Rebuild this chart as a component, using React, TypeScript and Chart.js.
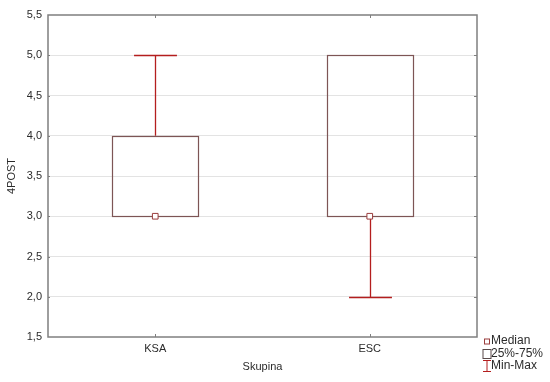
import React, { useEffect, useRef } from "react";
import { Chart, registerables } from "chart.js";

Chart.register(...registerables);

const categories = ["KSA", "ESC"];
const minValues = [3.0, 2.0];
const q1Values = [3.0, 3.0];
const medianValues = [3.0, 3.0];
const q3Values = [4.0, 5.0];
const maxValues = [5.0, 5.0];
const legendLabels = ["Median", "25%-75%", "Min-Max"];
const xTitle = "Skupina";
const yTitle = "4POST";
const yMin = 1.5;
const yMax = 5.5;
const yStep = 0.5;

const FONT = "'Liberation Sans', Arial, sans-serif";
const BOX_COLOR = "#7d5555";
const MEDIAN_COLOR = "#9a3c3c";
const WHISKER_COLOR = "#b41e1e";
const FRAME_COLOR = "#7f7f7f";
const TEXT_COLOR = "#2b2b2b";

const boxPlotPlugin = {
  id: "boxplot",
  beforeDatasetsDraw(chart: any) {
    const { ctx, scales } = chart;
    const xs = scales.x;
    const ys = scales.y;
    const catW = (xs.right - xs.left) / categories.length;
    const capHalf = catW * 0.1;
    const boxHalf = catW * 0.2;
    ctx.save();
    ctx.strokeStyle = WHISKER_COLOR;
    ctx.lineWidth = 1.3;
    categories.forEach((_, i) => {
      const x = Math.round(xs.getPixelForValue(i)) + 0.5;
      const yMaxP = Math.round(ys.getPixelForValue(maxValues[i])) + 0.5;
      const yQ3 = ys.getPixelForValue(q3Values[i]);
      const yQ1 = ys.getPixelForValue(q1Values[i]);
      const yMinP = Math.round(ys.getPixelForValue(minValues[i])) + 0.5;
      ctx.beginPath();
      if (maxValues[i] > q3Values[i]) {
        ctx.moveTo(x, yMaxP);
        ctx.lineTo(x, yQ3);
        ctx.moveTo(x - capHalf, yMaxP);
        ctx.lineTo(x + capHalf, yMaxP);
      }
      if (minValues[i] < q1Values[i]) {
        ctx.moveTo(x, yQ1);
        ctx.lineTo(x, yMinP);
        ctx.moveTo(x - capHalf, yMinP);
        ctx.lineTo(x + capHalf, yMinP);
      }
      ctx.stroke();
    });
    ctx.strokeStyle = BOX_COLOR;
    ctx.lineWidth = 1.2;
    categories.forEach((_, i) => {
      const xc = xs.getPixelForValue(i);
      const l = Math.round(xc - boxHalf) + 0.5;
      const r = Math.round(xc + boxHalf) + 0.5;
      const t = Math.round(ys.getPixelForValue(q3Values[i])) + 0.5;
      const b = Math.round(ys.getPixelForValue(q1Values[i])) + 0.5;
      ctx.strokeRect(l, t, r - l, b - t);
    });
    ctx.restore();
  },
  afterDatasetsDraw(chart: any) {
    const { ctx, chartArea, scales } = chart;
    const { left, right, top, bottom } = chartArea;
    ctx.save();
    ctx.strokeStyle = FRAME_COLOR;
    ctx.lineWidth = 1.5;
    ctx.strokeRect(left, top, right - left, bottom - top);
    ctx.lineWidth = 1;
    ctx.beginPath();
    const ys = scales.y;
    for (let v = yMin + yStep; v < yMax - 1e-9; v += yStep) {
      const y = Math.round(ys.getPixelForValue(v)) + 0.5;
      ctx.moveTo(right, y);
      ctx.lineTo(right - 3, y);
      ctx.moveTo(left, y);
      ctx.lineTo(left + 2, y);
    }
    const xs = scales.x;
    categories.forEach((_, i) => {
      const x = Math.round(xs.getPixelForValue(i)) + 0.5;
      ctx.moveTo(x, top);
      ctx.lineTo(x, top + 3);
      ctx.moveTo(x, bottom);
      ctx.lineTo(x, bottom - 3);
    });
    ctx.stroke();
    ctx.restore();
  },
  afterDraw(chart: any) {
    const { ctx, chartArea } = chart;
    const ix = chartArea.right + 9.5;
    const tx = chartArea.right + 14;
    const y0 = chartArea.bottom + 4;
    const dy = 12.5;
    ctx.save();
    ctx.font = `12px ${FONT}`;
    ctx.fillStyle = TEXT_COLOR;
    ctx.textBaseline = "middle";
    ctx.textAlign = "left";
    legendLabels.forEach((t, i) => ctx.fillText(t, tx, y0 + i * dy));
    ctx.lineWidth = 1;
    // median icon
    ctx.strokeStyle = MEDIAN_COLOR;
    ctx.strokeRect(ix - 2, y0 - 2, 5, 5);
    // box icon
    ctx.strokeStyle = "#5a4a4a";
    ctx.strokeRect(ix - 3.5, y0 + dy - 4, 8, 9);
    // whisker icon
    ctx.strokeStyle = WHISKER_COLOR;
    const wy = y0 + 2 * dy;
    ctx.beginPath();
    ctx.moveTo(ix - 3.5, wy - 5.5);
    ctx.lineTo(ix + 4.5, wy - 5.5);
    ctx.moveTo(ix + 0.5, wy - 5.5);
    ctx.lineTo(ix + 0.5, wy + 5.5);
    ctx.moveTo(ix - 3.5, wy + 5.5);
    ctx.lineTo(ix + 4.5, wy + 5.5);
    ctx.stroke();
    ctx.restore();
  },
};

export default function App() {
  const ref = useRef<HTMLCanvasElement | null>(null);
  useEffect(() => {
    document.body.style.margin = "0";
    const canvas = ref.current;
    if (!canvas) return;
    const chart = new Chart(canvas, {
      type: "bar",
      data: {
        labels: categories,
        datasets: [
          {
            type: "bar",
            label: "25%-75%",
            data: categories.map((_, i) => [q1Values[i], q3Values[i]]) as any,
            backgroundColor: "rgba(255,255,255,0)",
            borderWidth: 0,
            categoryPercentage: 1,
            barPercentage: 0.4,
          } as any,
          {
            type: "line",
            label: "Median",
            data: medianValues,
            showLine: false,
            pointStyle: "rect",
            pointRadius: 4,
            pointBackgroundColor: "#ffffff",
            pointBorderColor: MEDIAN_COLOR,
            pointBorderWidth: 1,
          } as any,
        ],
      },
      options: {
        responsive: false,
        animation: false,
        devicePixelRatio: 1,
        layout: { padding: { top: 15, right: 73, left: 0, bottom: 0 } },
        plugins: {
          legend: { display: false },
          tooltip: { enabled: false },
        },
        scales: {
          x: {
            type: "category",
            offset: true,
            grid: { display: false, drawTicks: false },
            border: { display: false },
            ticks: {
              color: TEXT_COLOR,
              font: { family: FONT, size: 11 },
              padding: 5,
              maxRotation: 0,
            },
            title: {
              display: true,
              text: xTitle,
              color: TEXT_COLOR,
              font: { family: FONT, size: 11 },
              padding: { top: 0, bottom: 8 },
            },
            afterFit(scale: any) {
              scale.height = 45;
            },
          },
          y: {
            min: yMin,
            max: yMax,
            grid: {
              drawTicks: false,
              color: (c: any) =>
                c.tick && (Math.abs(c.tick.value - yMin) < 1e-9 || Math.abs(c.tick.value - yMax) < 1e-9)
                  ? "rgba(0,0,0,0)"
                  : "#e3e3e3",
              lineWidth: 1,
            },
            border: { display: false },
            ticks: {
              stepSize: yStep,
              color: TEXT_COLOR,
              font: { family: FONT, size: 11 },
              padding: 6,
              callback: (v: any) => Number(v).toFixed(1).replace(".", ","),
            },
            title: {
              display: true,
              text: yTitle,
              color: TEXT_COLOR,
              font: { family: FONT, size: 11 },
              padding: { top: 5, bottom: 0 },
            },
            afterFit(scale: any) {
              scale.width = 48;
            },
          },
        },
      },
      plugins: [boxPlotPlugin],
    });
    return () => chart.destroy();
  }, []);
  return (
    <div style={{ width: 550, height: 382, background: "#ffffff" }}>
      <canvas ref={ref} width={550} height={382} style={{ display: "block" }} />
    </div>
  );
}
